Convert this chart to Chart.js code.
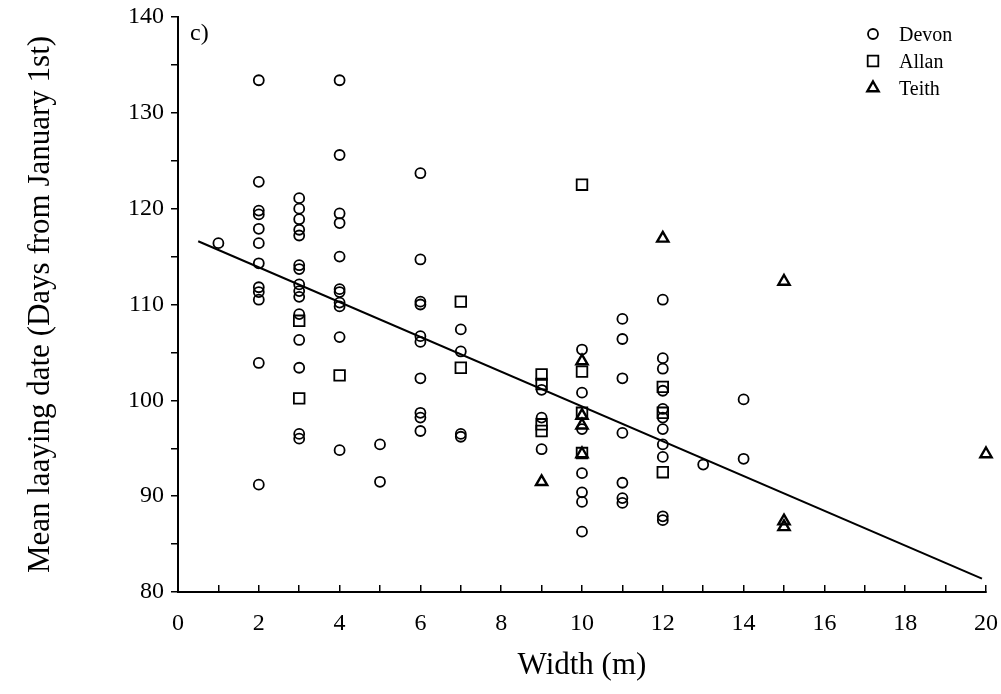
<!DOCTYPE html>
<html>
<head>
<meta charset="utf-8">
<script src="https://cdn.jsdelivr.net/npm/chart.js@4"></script>
<style>
  body { margin: 0; background: #fff; }
  #wrap { width: 1001px; height: 694px; }
</style>
</head>
<body>
<div id="wrap"><canvas id="myChart"></canvas></div>
<script>
'use strict';

// river width (m) and mean laying dates read at each width
var devonWidths = [1, 2, 3, 4, 5, 6, 7, 9, 10, 11, 12, 13, 14];
var devonDates = [
  [116.4],
  [133.4, 122.8, 119.8, 119.4, 117.9, 116.4, 114.3, 111.8, 111.3, 110.5, 103.9, 91.2],
  [121.1, 120.0, 118.9, 117.8, 117.2, 114.1, 113.7, 112.1, 111.4, 110.8, 109.0, 106.3, 103.4, 96.5, 96.0],
  [133.4, 125.6, 119.5, 118.5, 115.0, 111.6, 111.3, 110.2, 109.8, 106.6, 94.8],
  [95.4, 91.5],
  [123.7, 114.7, 110.3, 110.0, 106.7, 106.1, 102.3, 98.7, 98.2, 96.8],
  [107.4, 105.1, 96.5, 96.2],
  [101.1, 98.2, 94.9],
  [105.3, 100.8, 97.0, 92.4, 90.4, 89.4, 86.3],
  [108.5, 106.4, 102.3, 96.6, 91.4, 89.8, 89.3],
  [110.5, 104.4, 103.3, 101.0, 99.1, 98.2, 97.0, 95.4, 94.1, 87.9, 87.5],
  [93.3],
  [100.1, 93.9]
];

var allanWidths = [3, 4, 7, 9, 10, 12];
var allanDates = [
  [108.3, 100.2],
  [102.6],
  [110.3, 103.4],
  [102.7, 101.7, 97.5, 96.8],
  [122.5, 103.0, 98.7, 94.5],
  [101.4, 98.7, 92.5]
];

var teithWidths = [9, 10, 12, 15, 20];
var teithDates = [
  [91.5],
  [104.1, 98.4, 97.4, 94.4],
  [116.9],
  [112.4, 87.4, 86.8],
  [94.4]
];

// regression line end points
var fitWidths = [0.5, 19.9];
var fitDates = [116.6, 81.4];

var xTicks = [0, 2, 4, 6, 8, 10, 12, 14, 16, 18, 20];
var yTicks = [80, 90, 100, 110, 120, 130, 140];
var seriesNames = ['Devon', 'Allan', 'Teith'];

var SERIF = '"Liberation Serif", "Times New Roman", serif';

function toPoints(widths, dates) {
  var pts = [];
  for (var i = 0; i < widths.length; i++) {
    for (var j = 0; j < dates[i].length; j++) {
      pts.push({ x: widths[i], y: dates[i][j] });
    }
  }
  return pts;
}

function fitPoints() {
  var pts = [];
  for (var i = 0; i < fitWidths.length; i++) {
    pts.push({ x: fitWidths[i], y: fitDates[i] });
  }
  return pts;
}

// legend box and panel letter drawn inside the plot
var cornerText = {
  id: 'cornerText',
  afterDraw: function(chart) {
    var ctx = chart.ctx;
    var area = chart.chartArea;
    ctx.save();
    ctx.fillStyle = '#000';
    ctx.font = '24px ' + SERIF;
    ctx.textBaseline = 'middle';
    ctx.textAlign = 'left';
    ctx.fillText('c)', area.left + 12, area.top + 17);

    ctx.font = '20px ' + SERIF;
    for (var i = 0; i < seriesNames.length; i++) {
      var ds = chart.data.datasets[i];
      var y = area.top + 17 + i * 27;
      var x = area.right - 113;
      ctx.fillStyle = 'rgba(0,0,0,0)';
      ctx.strokeStyle = '#000';
      ctx.lineWidth = ds.borderWidth;
      Chart.helpers.drawPoint(ctx, {
        pointStyle: ds.pointStyle,
        radius: ds.pointRadius,
        borderWidth: ds.borderWidth,
        rotation: 0
      }, x, y);
      ctx.fillStyle = '#000';
      ctx.fillText(seriesNames[i], x + 26, y + 2);
    }
    ctx.restore();
  }
};

var ctx = document.getElementById('myChart').getContext('2d');
var chart = new Chart(ctx, {
  type: 'scatter',
  data: {
    datasets: [{
      label: 'Devon',
      data: toPoints(devonWidths, devonDates),
      pointStyle: 'circle',
      pointRadius: 5,
      borderWidth: 1.8,
      borderColor: '#000',
      backgroundColor: 'rgba(0,0,0,0)',
      clip: false
    }, {
      label: 'Allan',
      data: toPoints(allanWidths, allanDates),
      pointStyle: 'rect',
      pointRadius: 7.5,
      borderWidth: 1.8,
      borderColor: '#000',
      backgroundColor: 'rgba(0,0,0,0)',
      clip: false
    }, {
      label: 'Teith',
      data: toPoints(teithWidths, teithDates),
      pointStyle: 'triangle',
      pointRadius: 6.5,
      borderWidth: 2.4,
      borderColor: '#000',
      backgroundColor: 'rgba(0,0,0,0)',
      clip: false
    }, {
      label: 'fit',
      type: 'line',
      data: fitPoints(),
      borderColor: '#000',
      borderWidth: 2,
      pointRadius: 0,
      fill: false
    }]
  },
  options: {
    responsive: true,
    maintainAspectRatio: false,
    animation: false,
    layout: { padding: { top: 17, right: 15, left: 0, bottom: 0 } },
    plugins: {
      legend: { display: false },
      tooltip: { enabled: false }
    },
    scales: {
      x: {
        type: 'linear',
        min: 0,
        max: 20,
        afterFit: function(scale) {
          scale.height = 102;
          scale.paddingLeft = 0;
          scale.paddingRight = 0;
        },
        ticks: {
          stepSize: 1,
          color: '#000',
          font: { family: SERIF, size: 24 },
          padding: 24,
          maxRotation: 0,
          autoSkip: false,
          callback: function(v) { return xTicks.indexOf(v) >= 0 ? String(v) : ''; }
        },
        grid: { drawOnChartArea: false, color: '#000', lineWidth: 1.5, tickLength: -7 },
        border: { color: '#000', width: 2 },
        title: {
          display: true,
          text: 'Width (m)',
          color: '#000',
          font: { family: SERIF, size: 31 },
          padding: { top: 0, bottom: 10 }
        }
      },
      y: {
        min: 80,
        max: 140,
        afterFit: function(scale) {
          scale.width = 178;
          scale.paddingTop = 0;
          scale.paddingBottom = 0;
        },
        ticks: {
          stepSize: 5,
          color: '#000',
          font: { family: SERIF, size: 24 },
          padding: 7,
          autoSkip: false,
          callback: function(v) { return yTicks.indexOf(v) >= 0 ? String(v) : ''; }
        },
        grid: { drawOnChartArea: false, color: '#000', lineWidth: 1.5, tickLength: 7 },
        border: { color: '#000', width: 2 },
        title: {
          display: true,
          text: 'Mean laaying date (Days from January 1st)',
          color: '#000',
          font: { family: SERIF, size: 31 },
          padding: { top: 22, bottom: 0 }
        }
      }
    }
  },
  plugins: [cornerText]
});
</script>
</body>
</html>
